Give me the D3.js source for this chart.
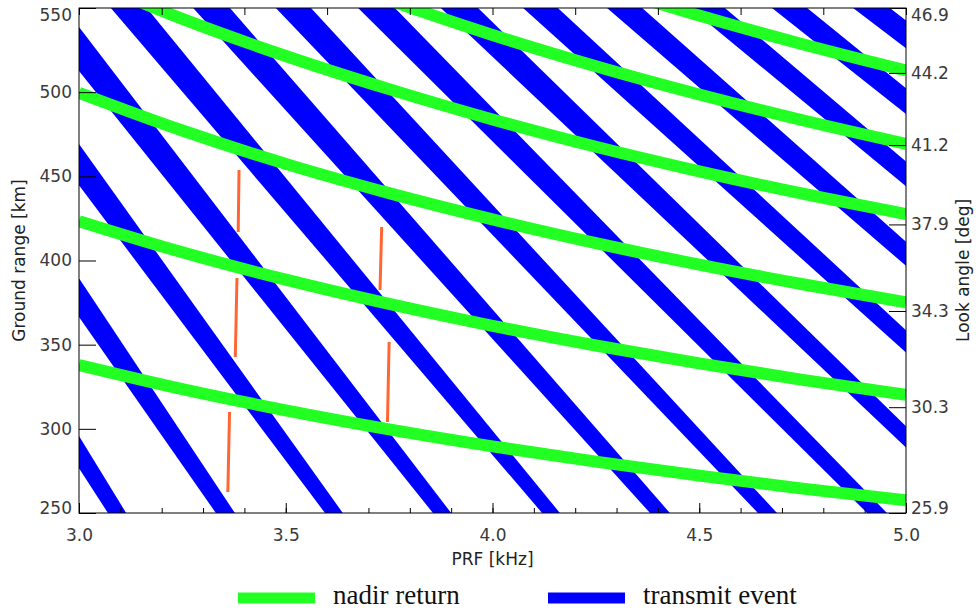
<!DOCTYPE html>
<html>
<head>
<meta charset="utf-8">
<script src="https://cdn.jsdelivr.net/npm/d3@7"></script>
<style>
  body { margin: 0; background: #fff; }
  svg { display: block; }
</style>
</head>
<body>
<div id="chart"></div>
<script>
// axes
const prfDomain = [3.0, 5.0];
const rangeDomain = [250, 550];
const rangeTicks = [250, 300, 350, 400, 450, 500, 550];
const prfLabelTicks = [3.0, 3.5, 4.0, 4.5, 5.0];
const lookAngleDomain = [25.9, 46.9];
const lookAngleTicks = [25.9, 30.3, 34.3, 37.9, 41.2, 44.2, 46.9];

// transmit event bands: band edges (kHz) at 550 km (top) and 250 km (bottom)
const txTopLeft  = [2.279, 2.478, 2.678, 2.878, 3.077, 3.276, 3.476, 3.675, 3.875, 4.074, 4.277, 4.478, 4.676, 4.872];
const txTopRight = [2.366, 2.566, 2.765, 2.965, 3.164, 3.365, 3.561, 3.764, 3.965, 4.158, 4.362, 4.562, 4.761, 4.961];
const txBotLeft  = [3.070, 3.331, 3.595, 3.856, 4.120, 4.381, 4.642, 4.906, 5.168, 5.431, 5.693, 5.956, 6.218, 6.481];
const txBotRight = [3.114, 3.377, 3.638, 3.900, 4.163, 4.429, 4.688, 4.954, 5.215, 5.478, 5.741, 6.003, 6.266, 6.528];

// nadir return curves (ground range in km at each PRF)
const nadirPrf = [3.0, 3.25, 3.5, 3.75, 4.0, 4.25, 4.5, 4.75, 5.0];
const nadir1 = [337.9, 323.6, 311.0, 299.7, 289.6, 280.5, 272.2, 264.5, 257.5];
const nadir2 = [423.4, 404.9, 388.6, 374.2, 361.2, 349.5, 338.9, 329.1, 320.2];
const nadir3 = [499.6, 477.2, 457.4, 440.0, 424.4, 410.3, 397.5, 385.9, 375.2];
const nadir4 = [569.0, 543.5, 521.5, 501.8, 483.8, 467.6, 453.0, 439.7, 427.6];
const nadir5 = [null, null, 577.9, 554.7, 534.0, 515.4, 498.6, 483.3, 469.3];
const nadir6 = [null, null, null, null, null, 564.3, 545.5, 528.5, 512.9];

// orange swath markers
const swathPrfTop   = [3.387, 3.382, 3.364, 3.732, 3.750];
const swathPrfBot   = [3.385, 3.378, 3.360, 3.728, 3.746];
const swathRangeTop = [453.8, 389.6, 310.0, 419.9, 351.6];
const swathRangeBot = [416.9, 342.7, 262.5, 382.5, 304.1];

const legendLabels = ["nadir return", "transmit event"];

const width = 976, height = 610;
const plot = { left: 79, right: 906, top: 8, bottom: 513 };
const green = "#22ff22", blue = "#0000ff", orange = "#ff6633";
const font = "'DejaVu Sans', sans-serif";

const svg = d3.select("#chart").append("svg")
  .attr("width", width)
  .attr("height", height);

const x = d3.scaleLinear().domain(prfDomain).range([plot.left, plot.right]);
const y = d3.scaleLinear().domain(rangeDomain).range([plot.bottom, plot.top]);
const yLook = d3.scaleLinear().domain(lookAngleDomain).range([plot.bottom, plot.top]);

svg.append("clipPath").attr("id", "plot-clip")
  .append("rect")
  .attr("x", plot.left).attr("y", plot.top)
  .attr("width", plot.right - plot.left)
  .attr("height", plot.bottom - plot.top);

const area = svg.append("g").attr("clip-path", "url(#plot-clip)");

// transmit event bands
const bands = txTopLeft.map((d, i) => [
  [txTopLeft[i], rangeDomain[1]],
  [txTopRight[i], rangeDomain[1]],
  [txBotRight[i], rangeDomain[0]],
  [txBotLeft[i], rangeDomain[0]]
]);
area.selectAll(".tx")
  .data(bands)
  .enter()
  .append("path")
  .attr("class", "tx")
  .attr("d", (d) => "M" + d.map((p) => [x(p[0]), y(p[1])].join(",")).join("L") + "Z")
  .attr("fill", blue);

// nadir returns
const nadirCurves = [nadir1, nadir2, nadir3, nadir4, nadir5, nadir6];
const nadirLine = d3.line()
  .defined((d) => d[1] != null)
  .x((d) => x(d[0]))
  .y((d) => y(d[1]))
  .curve(d3.curveMonotoneX);
area.selectAll(".nadir")
  .data(nadirCurves.map((c) => c.map((v, i) => [nadirPrf[i], v])))
  .enter()
  .append("path")
  .attr("class", "nadir")
  .attr("d", nadirLine)
  .attr("fill", "none")
  .attr("stroke", green)
  .attr("stroke-width", 12);

// swath markers
area.selectAll(".swath")
  .data(swathPrfTop.map((d, i) => i))
  .enter()
  .append("line")
  .attr("class", "swath")
  .attr("x1", (i) => x(swathPrfTop[i]))
  .attr("y1", (i) => y(swathRangeTop[i]))
  .attr("x2", (i) => x(swathPrfBot[i]))
  .attr("y2", (i) => y(swathRangeBot[i]))
  .attr("stroke", orange)
  .attr("stroke-width", 3);

// axes
function styleAxis(g) {
  g.select(".domain").remove();
  g.selectAll("line").attr("stroke", "#000");
  g.selectAll("text").attr("font-family", font).attr("font-size", "17px").attr("fill", "#3a3a3a");
}

svg.append("g")
  .attr("transform", `translate(0,${plot.bottom})`)
  .call(d3.axisBottom(x).tickValues(d3.range(30, 51).map((v) => v / 10)).tickSize(-5).tickFormat(""))
  .call(styleAxis);

svg.append("g")
  .attr("transform", `translate(0,${plot.bottom})`)
  .call(d3.axisBottom(x).tickValues(prfLabelTicks).tickSize(-10).tickPadding(16).tickFormat(d3.format(".1f")))
  .call(styleAxis);

svg.append("g")
  .attr("transform", `translate(0,${plot.top})`)
  .call(d3.axisTop(x).tickValues(d3.range(30, 51, 2).map((v) => v / 10)).tickSize(-7).tickFormat(""))
  .call(styleAxis);

svg.append("g")
  .attr("transform", `translate(${plot.left},0)`)
  .call(d3.axisLeft(y).tickValues(rangeTicks).tickSize(-17).tickPadding(7))
  .call(styleAxis)
  .selectAll("text")
  .attr("dy", (d) => (d === 550 ? "0.72em" : d === 250 ? "0em" : "0.32em"));

svg.append("g")
  .attr("transform", `translate(${plot.right},0)`)
  .call(d3.axisRight(yLook).tickValues(lookAngleTicks).tickSize(-17).tickPadding(5).tickFormat(d3.format(".1f")))
  .call(styleAxis)
  .selectAll("text")
  .attr("dy", (d) => (d === 46.9 ? "0.72em" : d === 25.9 ? "0em" : "0.32em"));

// frame
svg.append("rect")
  .attr("x", plot.left).attr("y", plot.top)
  .attr("width", plot.right - plot.left)
  .attr("height", plot.bottom - plot.top)
  .attr("fill", "none")
  .attr("stroke", "#000")
  .attr("stroke-width", 1);

// axis titles
svg.append("text")
  .attr("x", (plot.left + plot.right) / 2)
  .attr("y", 565)
  .attr("text-anchor", "middle")
  .attr("font-family", font).attr("font-size", "17px").attr("fill", "#222")
  .text("PRF [kHz]");

svg.append("text")
  .attr("transform", `translate(25,${(plot.top + plot.bottom) / 2}) rotate(-90)`)
  .attr("text-anchor", "middle")
  .attr("font-family", font).attr("font-size", "17px").attr("fill", "#222")
  .text("Ground range [km]");

svg.append("text")
  .attr("transform", `translate(969,${(plot.top + plot.bottom) / 2 + 10}) rotate(-90)`)
  .attr("text-anchor", "middle")
  .attr("font-family", font).attr("font-size", "17px").attr("fill", "#222")
  .text("Look angle [deg]");

// legend
const legend = svg.append("g");
const legendX = [238, 548];
const legendColors = [green, blue];
legendLabels.forEach((label, i) => {
  legend.append("line")
    .attr("x1", legendX[i]).attr("x2", legendX[i] + 77)
    .attr("y1", 598).attr("y2", 598)
    .attr("stroke", legendColors[i])
    .attr("stroke-width", 11);
  legend.append("text")
    .attr("x", legendX[i] + 95)
    .attr("y", 604)
    .attr("font-family", "'Liberation Serif', serif")
    .attr("font-size", "27px")
    .attr("fill", "#111")
    .text(label);
});
</script>
</body>
</html>
